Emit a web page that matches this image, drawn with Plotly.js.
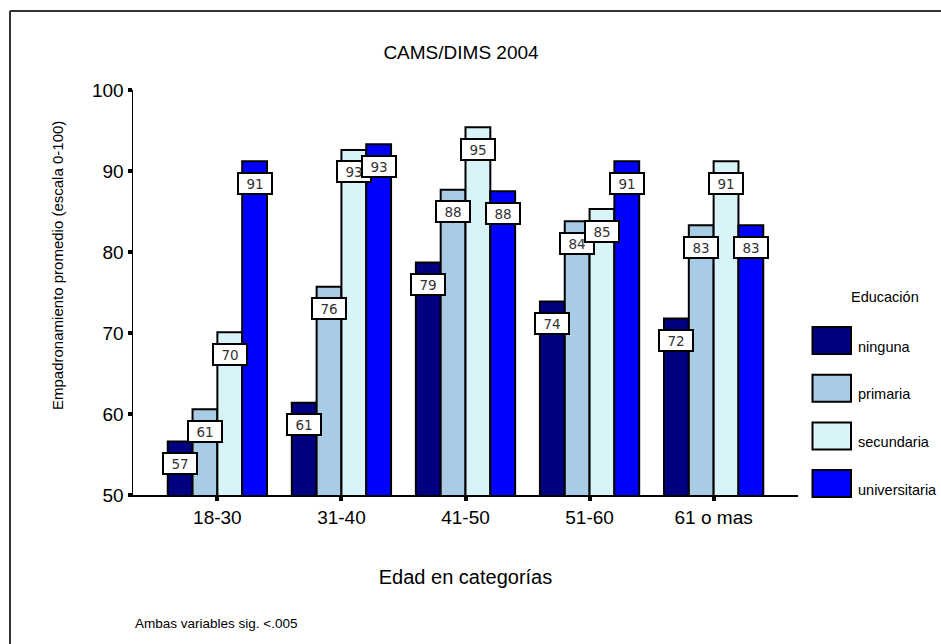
<!DOCTYPE html>
<html>
<head>
<meta charset="utf-8">
<script src="https://cdn.plot.ly/plotly-3.0.1.min.js"></script>
<style>html,body{margin:0;padding:0;background:#fff;}#chart{width:941px;height:644px;}</style>
</head>
<body>
<div id="chart"></div>
<script>
// ---- data ----
const categories = ['18-30', '31-40', '41-50', '51-60', '61 o mas'];
const seriesNames = ['ninguna', 'primaria', 'secundaria', 'universitaria'];
const ninguna = [56.6, 61.4, 78.7, 73.9, 71.8];
const primaria = [60.6, 75.7, 87.7, 83.8, 83.3];
const secundaria = [70.1, 92.6, 95.4, 85.3, 91.2];
const universitaria = [91.2, 93.3, 87.5, 91.2, 83.3];
const seriesValues = [ninguna, primaria, secundaria, universitaria];
const yTicks = [50, 60, 70, 80, 90, 100];

// ---- style ----
const colors = ['#000080', '#A9CCE6', '#D9F4F9', '#0000FF'];
const W = 941, H = 644;
const M = {l: 133, r: 143, t: 90, b: 149};
const FONT = 'Liberation Sans, Arial, Helvetica, sans-serif';
const pw = W - M.l - M.r, ph = H - M.t - M.b;
const px = v => (v - M.l) / pw;          // pixel x -> paper
const py = v => (H - M.b - v) / ph;      // pixel y -> paper

const bargap = 0.2;
const nS = seriesNames.length;
const barW = (1 - bargap) / nS;

const traces = seriesNames.map((name, j) => ({
  type: 'bar',
  name: name,
  x: categories,
  y: seriesValues[j],
  marker: {color: colors[j], line: {color: '#000', width: 2}},
  showlegend: false,
  hoverinfo: 'x+y+name'
}));

const annotations = [];
// value labels
seriesValues.forEach((vals, j) => {
  vals.forEach((v, i) => {
    annotations.push({
      x: i + (j - (nS - 1) / 2) * barW, xref: 'x',
      y: v, yref: 'y', yshift: -22,
      text: String(Math.round(v)), showarrow: false,
      xanchor: 'center', yanchor: 'middle',
      bgcolor: '#fff', bordercolor: '#000', borderwidth: 2, borderpad: 1,
      width: 30, height: 17,
      font: {family: 'DejaVu Sans, Verdana, sans-serif', size: 13.5, color: '#333'}
    });
  });
});

// custom legend
const shapes = [];
const legX0 = 812.5, legX1 = 851, legY0 = 327, legStep = 47.7, legH = 27;
annotations.push({
  x: px(885), y: py(297), xref: 'paper', yref: 'paper',
  text: 'Educación', showarrow: false, xanchor: 'center', yanchor: 'middle',
  font: {family: FONT, size: 14.5, color: '#000'}
});
seriesNames.forEach((name, j) => {
  const top = legY0 + j * legStep;
  shapes.push({
    type: 'rect', xref: 'paper', yref: 'paper',
    x0: px(legX0), x1: px(legX1), y0: py(top + legH), y1: py(top),
    fillcolor: colors[j], line: {color: '#000', width: 2}
  });
  annotations.push({
    x: px(856), y: py(top + legH / 2 + 6), xref: 'paper', yref: 'paper',
    text: name, showarrow: false, xanchor: 'left', yanchor: 'middle',
    font: {family: FONT, size: 14.5, color: '#000'}
  });
});

// y axis title (placed as in the reference, off-centre)
annotations.push({
  x: px(57), y: py(266), xref: 'paper', yref: 'paper',
  text: 'Empadronamiento promedio (escala 0-100)', textangle: -90,
  showarrow: false, xanchor: 'center', yanchor: 'middle',
  font: {family: FONT, size: 15, color: '#000'}
});
// footnote
annotations.push({
  x: px(133), y: py(623), xref: 'paper', yref: 'paper',
  text: 'Ambas variables sig. <.005', showarrow: false,
  xanchor: 'left', yanchor: 'middle',
  font: {family: FONT, size: 13.5, color: '#000'}
});

// outer frame (left and top edges)
shapes.push({type: 'line', xref: 'paper', yref: 'paper', x0: px(10), x1: px(10), y0: py(11), y1: py(700), line: {color: '#333', width: 2}});
shapes.push({type: 'line', xref: 'paper', yref: 'paper', x0: px(10), x1: px(1000), y0: py(11), y1: py(11), line: {color: '#333', width: 2}});

const layout = {
  width: W, height: H,
  margin: M,
  paper_bgcolor: '#fff', plot_bgcolor: '#fff',
  font: {family: FONT, color: '#000'},
  title: {
    text: 'CAMS/DIMS 2004',
    font: {family: FONT, size: 19, color: '#000'},
    xref: 'paper', x: px(461), xanchor: 'center',
    yref: 'container', y: 1 - 52 / H, yanchor: 'middle'
  },
  barmode: 'group', bargap: bargap, bargroupgap: 0,
  showlegend: false,
  xaxis: {
    type: 'category',
    range: [-0.68, 4.68],
    showline: true, linecolor: '#000', linewidth: 2,
    ticks: 'outside', ticklen: 4, tickwidth: 4, tickcolor: '#000',
    tickfont: {family: FONT, size: 19, color: '#000'},
    showgrid: false, zeroline: false, fixedrange: true,
    title: {text: 'Edad en categorías', font: {family: FONT, size: 20, color: '#000'}, standoff: 43},
    automargin: false
  },
  yaxis: {
    range: [50, 100],
    tickvals: yTicks,
    showline: true, linecolor: '#000', linewidth: 1.5,
    ticks: 'outside', ticklen: 4, tickwidth: 4, tickcolor: '#000',
    tickfont: {family: FONT, size: 19, color: '#000'},
    showgrid: false, zeroline: false, fixedrange: true,
    automargin: false
  },
  annotations: annotations,
  shapes: shapes
};

Plotly.newPlot('chart', traces, layout, {displayModeBar: false, staticPlot: true});
</script>
</body>
</html>
